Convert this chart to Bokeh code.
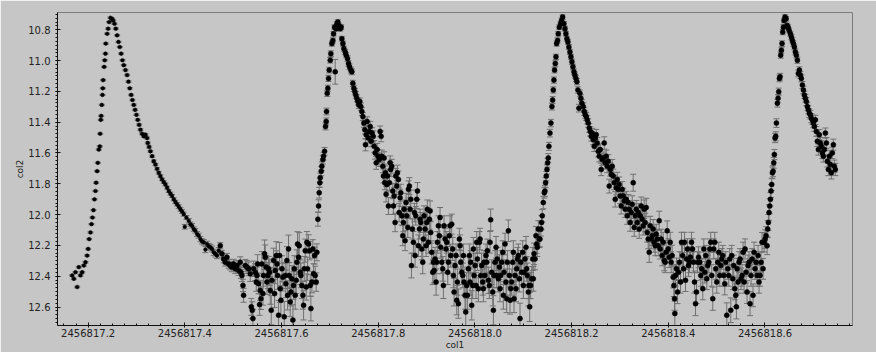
from bokeh.plotting import figure
from bokeh.models import (ColumnDataSource, Range1d, Whisker, TeeHead,
                          SingleIntervalTicker, PrintfTickFormatter)
from bokeh.embed import file_html
from bokeh.resources import INLINE

# Observation time is JD = JD0 + t ; rows are (t, mag, err in mmag)
JD0 = 2456817.0

seg1 = [
(0.1669,12.395,5),(0.1704,12.417,5),(0.1738,12.374,5),(0.1773,12.470,5),(0.1807,12.341,5),(0.1841,12.395,5),(0.1876,12.374,5),(0.1910,12.331,5),(0.1945,12.309,5),(0.1979,12.266,4),
(0.2000,12.223,4),(0.2021,12.159,4),(0.2048,12.116,4),(0.2069,12.062,4),(0.2089,12.019,4),(0.2110,11.971,4),(0.2131,11.901,4),(0.2151,11.847,4),(0.2165,11.793,4),(0.2186,11.718,4),
(0.2200,11.664,4),(0.2220,11.578,4),(0.2241,11.557,4),(0.2248,11.475,4),(0.2262,11.385,4),(0.2269,11.359,4),(0.2282,11.288,4),(0.2296,11.223,4),(0.2303,11.180,4),(0.2310,11.127,4),
(0.2331,11.041,4),(0.2344,10.998,4),(0.2358,10.955,4),(0.2365,10.890,4),(0.2393,10.826,4),(0.2413,10.793,4),(0.2434,10.750,4),(0.2462,10.722,4),(0.2496,10.729,4),
(0.2517,10.740,4),(0.2544,10.761,4),(0.2572,10.793,4),(0.2599,10.836,4),(0.2627,10.879,4),(0.2654,10.912,4),(0.2682,10.955,4),(0.2710,10.998,4),(0.2737,11.030,4),(0.2772,11.062,5),
(0.2806,11.094,5),(0.2834,11.137,5),(0.2861,11.180,5),(0.2889,11.223,5),(0.2916,11.256,5),(0.2944,11.288,5),(0.2971,11.320,5),(0.2999,11.352,5),(0.3026,11.385,5),(0.3054,11.417,6),
(0.3082,11.449,6),(0.3116,11.475,6),(0.3151,11.492,6),(0.3185,11.481,6),(0.3219,11.503,6),(0.3233,11.535,6),(0.3261,11.561,6),(0.3288,11.589,6),(0.3323,11.621,7),(0.3357,11.653,7),
(0.3392,11.675,7),(0.3426,11.703,7),(0.3461,11.729,8),(0.3495,11.750,8),(0.3529,11.772,8),(0.3564,11.789,8),(0.3598,11.804,9),(0.3633,11.825,9),(0.3667,11.847,9),(0.3702,11.864,10),
(0.3736,11.879,10),(0.3771,11.901,10),(0.3805,11.918,11),(0.3840,11.933,11),(0.3874,11.948,12),(0.3908,11.965,12),(0.3943,11.980,12),(0.3977,11.997,13),(0.3998,12.079,15),(0.4032,12.019,13),
(0.4081,12.040,14),(0.4115,12.062,14),(0.4150,12.073,15),(0.4184,12.094,15),(0.4218,12.105,15),(0.4253,12.126,16),(0.4287,12.137,16),(0.4322,12.159,17),(0.4356,12.174,17),(0.4391,12.180,18),
(0.4425,12.227,20),(0.4460,12.191,18),(0.4494,12.206,18),(0.4529,12.212,19),(0.4563,12.223,19),(0.4597,12.245,20),(0.4632,12.255,20),(0.4666,12.266,20),(0.4701,12.234,20),
]

seg2 = [
(0.4733,12.202,20),(0.4767,12.255,22),(0.4802,12.288,25),(0.4836,12.309,25),(0.4871,12.277,25),(0.4905,12.320,28),(0.4940,12.331,28),(0.4974,12.341,30),(0.5009,12.320,30),(0.5043,12.352,30),
(0.5078,12.331,32),(0.5112,12.363,32),(0.5146,12.309,35),(0.5160,12.374,40),(0.5181,12.395,40),(0.5202,12.460,40),(0.5215,12.524,45),(0.5250,12.331,40),(0.5284,12.341,42),(0.5319,12.352,45),
(0.5353,12.384,50),(0.5374,12.599,55),(0.5394,12.621,55),(0.5408,12.675,60),(0.5422,12.352,50),(0.5456,12.374,55),(0.5477,12.438,60),(0.5491,12.395,55),(0.5505,12.320,60),(0.5525,12.449,65),
(0.5546,12.584,70),(0.5560,12.492,65),(0.5574,12.546,70),(0.5594,12.320,80),(0.5615,12.513,75),(0.5629,12.395,70),(0.5649,12.255,90),(0.5663,12.277,80),(0.5684,12.341,75),(0.5698,12.438,80),
(0.5718,12.395,85),(0.5732,12.352,80),(0.5753,12.374,85),(0.5767,12.492,90),(0.5787,12.621,95),(0.5801,12.427,85),(0.5835,12.298,80),(0.5856,12.513,90),(0.5870,12.363,85),(0.5891,12.266,90),
(0.5904,12.320,85),(0.5918,12.395,90),(0.5939,12.653,95),(0.5959,12.266,85),(0.5973,12.481,90),(0.5987,12.556,95),(0.6008,12.352,85),(0.6028,12.406,90),(0.6056,12.664,100),(0.6077,12.395,85),
(0.6090,12.449,90),(0.6111,12.298,90),(0.6125,12.524,95),(0.6145,12.223,90),(0.6159,12.395,85),(0.6180,12.567,95),(0.6194,12.503,90),(0.6214,12.417,85),(0.6235,12.685,100),(0.6249,12.460,90),
(0.6263,12.352,85),(0.6283,12.524,90),(0.6304,12.427,85),(0.6318,12.309,80),(0.6331,12.191,80),(0.6352,12.277,80),(0.6366,12.202,85),(0.6387,12.374,80),(0.6400,12.395,80),(0.6421,12.460,85),
(0.6442,12.524,90),(0.6456,12.589,95),(0.6469,12.352,80),(0.6490,12.234,75),(0.6511,12.470,85),(0.6525,12.180,70),(0.6538,12.352,75),(0.6559,12.191,60),(0.6580,12.234,60),(0.6593,12.460,70),
(0.6607,12.610,80),(0.6628,12.438,70),(0.6648,12.223,60),(0.6662,12.384,65),(0.6683,12.266,55),(0.6697,12.395,60),(0.6717,12.438,60),(0.6731,12.245,55),
(0.6752,12.030,45),(0.6766,11.944,40),(0.6779,11.858,35),(0.6793,11.793,30),(0.6800,11.761,30),(0.6821,11.718,30),(0.6834,11.686,28),(0.6855,11.643,28),(0.6869,11.621,25),(0.6890,11.589,25),
(0.6910,11.428,22),(0.6924,11.395,22),(0.6931,11.331,22),(0.6945,11.213,20),(0.6958,11.180,20),(0.6972,11.116,20),(0.6986,11.062,18),(0.7007,10.998,18),(0.7020,10.955,18),(0.7041,10.890,16),
(0.7062,10.869,16),(0.7076,10.826,15),(0.7096,10.783,15),(0.7110,11.073,80),(0.7131,10.793,15),(0.7145,10.761,15),(0.7165,10.750,15),(0.7186,10.772,15),(0.7213,10.793,15),(0.7234,10.783,15),
(0.7248,10.858,15),(0.7269,10.890,16),(0.7289,10.922,16),(0.7317,10.944,17),(0.7337,10.965,17),(0.7365,10.987,18),(0.7386,11.019,18),(0.7406,11.041,18),(0.7434,11.062,19),(0.7455,11.073,19),
(0.7475,11.148,20),(0.7496,11.180,20),(0.7517,11.202,20),(0.7537,11.223,21),(0.7558,11.245,22),(0.7579,11.266,22),(0.7599,11.288,23),(0.7620,11.266,23),(0.7641,11.299,24),(0.7661,11.331,25),
(0.7682,11.363,26),(0.7703,11.406,27),(0.7723,11.449,28),(0.7737,11.546,40),(0.7751,11.481,30),(0.7771,11.395,30),(0.7792,11.503,32),(0.7813,11.460,32),(0.7834,11.428,33),(0.7854,11.524,35),
(0.7875,11.471,35),(0.7896,11.492,36),(0.7916,11.557,38),(0.7937,11.600,40),(0.7958,11.664,42),(0.7978,11.578,40),(0.7999,11.621,42),(0.8020,11.643,44),
]

seg3 = [
(0.8039,11.460,35),(0.8060,11.492,35),(0.8073,11.621,40),(0.8094,11.686,42),(0.8108,11.750,45),(0.8122,11.632,40),(0.8135,11.793,45),(0.8149,11.729,45),(0.8163,11.868,50),(0.8177,11.804,48),
(0.8191,11.750,45),(0.8211,11.944,55),(0.8232,11.793,50),(0.8246,11.664,45),(0.8259,11.707,45),(0.8280,11.686,45),(0.8301,11.847,50),(0.8315,11.944,55),(0.8328,11.879,55),(0.8349,12.051,60),
(0.8363,11.750,50),(0.8384,11.815,55),(0.8397,11.729,50),(0.8418,11.772,55),(0.8432,11.987,60),(0.8452,11.890,55),(0.8466,11.858,55),(0.8487,12.008,60),(0.8508,12.137,65),(0.8521,12.051,60),
(0.8535,11.965,60),(0.8556,12.169,65),(0.8576,11.922,60),(0.8590,12.008,60),(0.8611,12.083,65),(0.8625,11.836,55),(0.8645,11.815,55),(0.8659,11.965,60),(0.8673,11.901,60),(0.8687,12.331,80),
(0.8707,12.094,65),(0.8728,12.180,70),(0.8749,11.987,60),(0.8762,12.266,75),(0.8776,12.008,60),(0.8797,11.901,60),(0.8811,11.847,55),(0.8831,12.202,70),(0.8852,12.094,65),(0.8866,12.030,65),
(0.8880,12.051,65),(0.8900,12.223,70),(0.8921,12.309,75),(0.8935,12.159,70),(0.8948,12.008,65),(0.8969,12.094,65),(0.8990,12.202,70),(0.9004,12.051,65),(0.9017,11.965,60),(0.9038,12.180,70),
(0.9059,12.030,65),(0.9073,11.976,65),(0.9086,12.116,70),(0.9107,12.245,75),(0.9128,12.374,80),(0.9141,12.309,75),(0.9155,12.363,80),(0.9176,12.288,75),(0.9197,12.438,85),(0.9210,12.309,75),
(0.9224,12.180,70),(0.9245,12.073,65),(0.9265,12.137,70),(0.9279,12.019,65),(0.9293,12.212,70),(0.9314,12.309,75),(0.9334,12.352,80),(0.9348,12.460,85),(0.9362,12.073,65),(0.9383,12.159,70),
(0.9403,12.223,75),(0.9417,12.180,70),(0.9438,12.374,80),(0.9451,12.309,75),(0.9472,12.137,70),(0.9486,12.073,65),(0.9500,12.266,75),(0.9520,12.062,65),(0.9541,12.223,75),(0.9555,12.395,80),
(0.9569,12.503,90),(0.9589,12.331,80),(0.9610,12.266,75),(0.9624,12.556,95),(0.9637,12.438,85),(0.9658,12.578,95),(0.9679,12.159,70),(0.9693,12.202,70),(0.9706,12.309,75),(0.9727,12.374,80),
(0.9748,12.395,80),(0.9762,12.266,75),(0.9775,12.438,85),(0.9796,12.524,90),(0.9810,12.632,100),(0.9830,12.460,85),(0.9844,12.524,90),(0.9865,12.352,80),(0.9886,12.266,75),(0.9899,12.438,85),
(0.9913,12.309,75),(0.9934,12.589,95),(0.9954,12.460,85),(0.9968,12.223,75),(0.9982,12.395,80),(1.0003,12.331,80),(1.0023,12.460,85),(1.0037,12.180,70),(1.0051,12.288,75),(1.0072,12.481,85),
(1.0092,12.180,70),(1.0106,12.159,70),(1.0120,12.395,80),(1.0140,12.331,80),(1.0161,12.438,85),(1.0175,12.481,85),(1.0189,12.309,75),(1.0209,12.395,80),(1.0230,12.266,75),(1.0244,12.309,75),
(1.0258,12.234,75),(1.0278,12.427,85),(1.0299,12.460,85),(1.0313,12.180,70),(1.0326,12.034,70),(1.0347,12.374,80),(1.0368,12.503,90),(1.0382,12.621,95),(1.0395,12.395,80),(1.0416,12.309,75),
(1.0437,12.212,70),(1.0451,12.395,80),(1.0464,12.288,75),(1.0485,12.417,85),(1.0506,12.341,80),(1.0519,12.481,85),(1.0533,12.395,80),(1.0554,12.309,75),(1.0575,12.245,75),(1.0588,12.524,90),
(1.0602,12.374,80),(1.0623,12.191,70),(1.0643,12.438,85),(1.0657,12.546,90),(1.0671,12.309,75),(1.0692,12.105,70),(1.0712,12.395,80),(1.0726,12.556,90),(1.0740,12.481,85),(1.0761,12.438,85),
(1.0781,12.309,75),(1.0795,12.245,75),(1.0809,12.546,90),(1.0829,12.395,80),(1.0850,12.481,85),(1.0864,12.352,80),(1.0878,12.288,75),(1.0898,12.266,75),(1.0919,12.417,85),(1.0933,12.675,100),
(1.0947,12.309,75),(1.0967,12.374,80),(1.0988,12.245,75),(1.1002,12.460,85),(1.1015,12.374,80),(1.1036,12.288,75),(1.1057,12.212,70),(1.1071,12.352,80),(1.1084,12.395,80),(1.1105,12.503,90),
(1.1119,12.460,85),(1.1133,12.599,95),(1.1153,12.460,85),(1.1174,12.417,80),(1.1195,12.288,75),(1.1208,12.417,80),(1.1222,12.255,70),(1.1243,12.288,70),(1.1263,12.137,60),(1.1277,12.191,60),
(1.1291,12.212,60),(1.1312,12.094,55),(1.1332,12.159,55),
]

seg4 = [
(1.1345,12.159,50),(1.1366,12.094,45),(1.1379,12.051,45),(1.1393,12.008,40),(1.1414,11.922,40),(1.1435,11.858,35),(1.1448,11.847,35),(1.1462,11.793,32),(1.1476,11.750,30),(1.1490,11.707,30),
(1.1503,11.664,28),(1.1517,11.632,28),(1.1531,11.557,26),(1.1552,11.471,25),(1.1572,11.406,24),(1.1593,11.299,22),(1.1607,11.256,22),(1.1621,11.191,20),(1.1634,11.127,20),(1.1648,11.062,18),
(1.1662,11.019,18),(1.1676,10.976,17),(1.1690,10.890,16),(1.1710,10.869,16),(1.1724,10.826,15),(1.1745,10.783,15),(1.1772,10.761,15),(1.1793,10.740,15),(1.1814,10.718,15),(1.1841,10.761,15),
(1.1862,10.793,15),(1.1882,10.826,15),(1.1903,10.858,16),(1.1924,10.879,16),(1.1944,10.912,16),(1.1965,10.944,17),(1.1986,10.976,17),(1.2006,11.008,18),(1.2027,11.041,18),(1.2048,11.073,19),
(1.2068,11.094,19),(1.2089,11.116,20),(1.2110,11.137,20),(1.2130,11.191,21),(1.2151,11.309,25),(1.2172,11.213,22),(1.2192,11.245,22),(1.2213,11.277,23),(1.2241,11.299,24),(1.2261,11.331,25),
(1.2282,11.352,25),(1.2303,11.363,26),(1.2323,11.385,27),(1.2344,11.406,28),(1.2365,11.438,29),(1.2385,11.460,30),(1.2406,11.492,31),(1.2427,11.471,31),(1.2447,11.514,32),(1.2468,11.557,33),
(1.2489,11.503,33),(1.2509,11.481,34),(1.2530,11.535,35),(1.2551,11.589,36),(1.2571,11.621,37),(1.2592,11.578,37),(1.2613,11.707,40),(1.2633,11.643,38),(1.2654,11.632,38),(1.2675,11.535,40),
(1.2695,11.664,40),(1.2716,11.621,40),(1.2737,11.686,42),(1.2757,11.653,42),(1.2778,11.815,45),(1.2799,11.707,43),(1.2819,11.739,44),(1.2840,11.686,44),(1.2861,11.750,45),(1.2881,11.793,46),
(1.2902,11.901,50),(1.2923,11.825,47),(1.2943,11.772,47),(1.2964,11.836,48),(1.2985,11.804,48),(1.3005,11.879,50),(1.3026,11.944,52),(1.3047,11.836,50),(1.3068,11.879,50),(1.3088,11.911,52),
(1.3109,11.965,53),(1.3130,11.901,52),(1.3150,12.008,55),(1.3171,11.922,53),(1.3192,11.965,55),(1.3212,12.051,57),(1.3233,11.987,55),(1.3254,11.933,55),(1.3274,11.793,55),(1.3295,12.083,58),
(1.3316,12.008,57),(1.3336,11.965,57),(1.3357,12.051,58),(1.3378,11.987,58),(1.3398,12.094,60),(1.3419,12.008,58),(1.3440,11.944,58),(1.3460,12.030,60),(1.3481,12.073,60),(1.3502,11.965,60),
(1.3522,12.051,60),(1.3543,11.954,60),(1.3564,12.116,62),(1.3584,12.159,63),(1.3605,12.245,65),(1.3626,12.073,62),(1.3646,12.159,63),(1.3667,12.137,63),(1.3688,12.094,62),(1.3708,12.180,64),
(1.3729,12.202,65),(1.3750,12.126,63),(1.3770,12.159,64),(1.3791,12.202,65),(1.3812,12.040,62),(1.3832,12.223,65),(1.3853,12.159,64),(1.3874,12.266,66),(1.3894,12.180,65),(1.3915,12.298,67),
(1.3936,12.309,68),(1.3956,12.245,66),(1.3977,12.105,64),(1.3998,12.223,66),(1.4018,12.277,67),(1.4039,12.180,65),(1.4060,12.309,68),(1.4080,12.266,67),(1.4101,12.406,70),(1.4115,12.460,72),
(1.4129,12.546,75),(1.4135,12.642,80),(1.4149,12.395,70),(1.4170,12.352,70),(1.4191,12.503,75),(1.4211,12.374,70),(1.4232,12.309,68),(1.4253,12.438,72),(1.4273,12.180,65),(1.4294,12.266,68),
(1.4315,12.352,70),(1.4335,12.180,65),(1.4356,12.427,72),(1.4377,12.288,68),(1.4397,12.223,66),(1.4418,12.331,70),(1.4439,12.309,68),(1.4459,12.277,68),(1.4480,12.180,65),(1.4501,12.223,66),
(1.4521,12.309,68),(1.4542,12.438,72),(1.4563,12.578,78),(1.4583,12.503,75),(1.4604,12.309,68),(1.4625,12.277,68),
]

seg5 = [
(1.4651,12.309,65),(1.4672,12.395,70),(1.4692,12.352,68),(1.4713,12.481,72),(1.4734,12.223,65),(1.4754,12.374,70),(1.4775,12.266,66),(1.4796,12.417,70),(1.4816,12.331,68),(1.4837,12.309,68),
(1.4858,12.223,65),(1.4878,12.180,65),(1.4899,12.395,70),(1.4920,12.546,75),(1.4940,12.223,65),(1.4961,12.180,65),(1.4982,12.352,68),(1.5002,12.438,72),(1.5023,12.309,68),(1.5044,12.245,66),
(1.5064,12.395,70),(1.5085,12.331,68),(1.5106,12.288,67),(1.5126,12.266,66),(1.5147,12.395,70),(1.5168,12.449,72),(1.5188,12.309,68),(1.5209,12.653,80),(1.5230,12.352,68),(1.5250,12.395,70),
(1.5271,12.288,67),(1.5292,12.621,80),(1.5312,12.266,66),(1.5333,12.417,70),(1.5354,12.331,68),(1.5374,12.481,72),(1.5395,12.524,74),(1.5409,12.599,78),(1.5423,12.352,68),(1.5443,12.438,72),
(1.5464,12.309,68),(1.5485,12.288,67),(1.5505,12.417,70),(1.5526,12.395,70),(1.5547,12.245,66),(1.5567,12.438,72),(1.5588,12.223,65),(1.5609,12.374,70),(1.5629,12.503,74),(1.5650,12.331,68),
(1.5671,12.309,68),(1.5691,12.578,78),(1.5712,12.395,70),(1.5733,12.288,67),(1.5753,12.524,74),(1.5774,12.245,66),(1.5795,12.352,68),(1.5815,12.309,68),(1.5836,12.395,70),(1.5857,12.266,66),
(1.5877,12.438,72),(1.5898,12.395,70),(1.5919,12.309,68),(1.5939,12.180,64),(1.5960,12.352,68),(1.5981,12.180,62),(1.6001,12.159,60),(1.6022,12.137,58),(1.6043,12.202,58),(1.6057,12.094,55),
(1.6070,12.051,52),(1.6084,11.987,50),(1.6098,11.944,48),(1.6112,11.901,45),(1.6125,11.847,42),(1.6139,11.804,40),(1.6153,11.729,38),(1.6167,11.718,36),(1.6181,11.664,35),(1.6194,11.610,33),
(1.6208,11.503,30),(1.6222,11.492,30),(1.6236,11.406,28),(1.6256,11.277,25),(1.6270,11.245,24),(1.6284,11.202,23),(1.6298,11.116,22),(1.6312,11.105,22),(1.6325,10.965,20),(1.6339,10.933,19),
(1.6353,10.890,18),(1.6367,10.815,17),(1.6380,10.783,16),(1.6394,10.740,15),(1.6415,10.718,15),(1.6436,10.729,15),(1.6456,10.772,15),(1.6477,10.783,15),(1.6498,10.804,16),(1.6525,10.826,16),
(1.6546,10.847,17),(1.6566,10.869,17),(1.6587,10.890,18),(1.6608,10.912,18),(1.6628,10.944,19),(1.6649,10.965,19),(1.6670,10.998,20),(1.6690,11.084,22),(1.6711,11.062,21),(1.6732,11.094,22),
(1.6752,11.116,22),(1.6773,11.159,23),(1.6794,11.191,24),(1.6814,11.223,24),(1.6835,11.245,25),(1.6856,11.266,26),(1.6876,11.299,26),(1.6897,11.320,27),(1.6918,11.342,28),(1.6938,11.352,28),
(1.6959,11.374,29),(1.6980,11.385,30),(1.7000,11.406,30),(1.7021,11.428,31),(1.7042,11.385,30),(1.7062,11.460,32),(1.7083,11.524,34),(1.7104,11.578,36),(1.7124,11.481,33),(1.7145,11.535,35),
(1.7166,11.557,36),(1.7187,11.600,37),(1.7207,11.621,38),(1.7228,11.578,37),(1.7249,11.471,33),(1.7269,11.535,35),(1.7290,11.653,38),(1.7311,11.707,40),(1.7331,11.621,38),(1.7352,11.675,39),
(1.7373,11.729,40),(1.7393,11.600,37),(1.7414,11.546,36),(1.7435,11.686,40),(1.7455,11.707,40),
]

X_START, X_END = 2456817.1366, 2456818.781
Y_TOP, Y_BOTTOM = 10.688, 12.72
BG = "#c6c6c6"
FONT = "DejaVu Sans"


def columns(rows, size):
    xs = [JD0 + r[0] for r in rows]
    ys = [r[1] for r in rows]
    es = [r[2] / 1000.0 for r in rows]
    return dict(x=xs, y=ys, upper=[y + e for y, e in zip(ys, es)],
                lower=[y - e for y, e in zip(ys, es)], size=[size] * len(rows))


data = {k: [] for k in ("x", "y", "upper", "lower", "size")}
for rows, sz in ((seg1, 3.7), (seg2, 5.0), (seg3, 5.0), (seg4, 5.0), (seg5, 5.0)):
    c = columns(rows, sz)
    for k in data:
        data[k].extend(c[k])
src = ColumnDataSource(data)

p = figure(width=876, height=352, output_backend="svg", toolbar_location=None,
           x_range=Range1d(X_START, X_END), y_range=Range1d(Y_BOTTOM, Y_TOP),
           background_fill_color=BG, border_fill_color=BG,
           min_border_left=57, min_border_right=24, min_border_top=12, min_border_bottom=0)
p.grid.visible = False
p.outline_line_color = "#7c7c7c"
p.outline_line_width = 1

EB = "#707070"
wh = Whisker(source=src, base="x", upper="upper", lower="lower", dimension="height",
             line_color=EB, line_width=1,
             upper_head=TeeHead(size=6, line_color=EB, line_width=1),
             lower_head=TeeHead(size=6, line_color=EB, line_width=1))
p.add_layout(wh)
p.scatter("x", "y", source=src, size="size", marker="circle",
          fill_color="black", line_color="black", line_width=0.5)

p.xaxis.ticker = SingleIntervalTicker(interval=0.2, num_minor_ticks=8)
p.yaxis.ticker = SingleIntervalTicker(interval=0.2, num_minor_ticks=8)
p.xaxis.formatter = PrintfTickFormatter(format="%.1f")
p.yaxis.formatter = PrintfTickFormatter(format="%.1f")
p.xaxis.axis_label = "col1"
p.yaxis.axis_label = "col2"

for ax in (p.xaxis[0], p.yaxis[0]):
    ax.axis_line_color = "#111111"
    ax.major_tick_line_color = "#111111"
    ax.minor_tick_line_color = "#111111"
    ax.major_tick_in = 3
    ax.major_tick_out = 2
    ax.major_label_text_font = FONT
    ax.major_label_text_font_size = "10px"
    ax.major_label_text_color = "#222222"
    ax.axis_label_text_font = FONT
    ax.axis_label_text_font_size = "9px"
    ax.axis_label_text_font_style = "normal"
    ax.axis_label_text_color = "#222222"

p.xaxis.minor_tick_in = 2
p.xaxis.minor_tick_out = 0
p.xaxis.major_label_standoff = 1
p.xaxis.axis_label_standoff = 0
p.yaxis.minor_tick_in = 0
p.yaxis.minor_tick_out = 2
p.yaxis.major_label_standoff = 5
p.yaxis.axis_label_standoff = 0

open("out.html", "w").write(file_html(p, INLINE))
